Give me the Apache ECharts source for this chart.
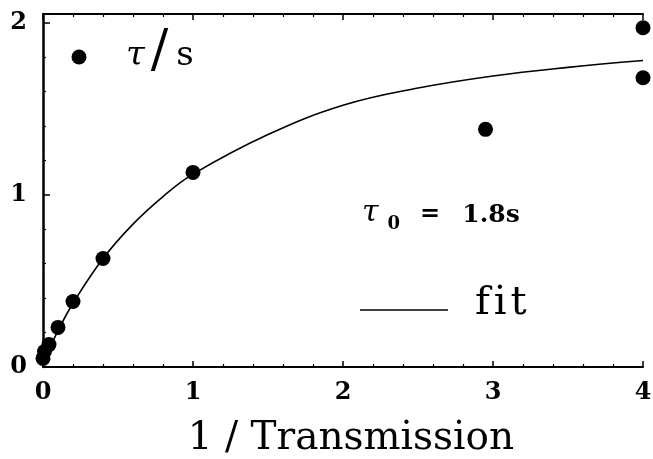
<!DOCTYPE html>
<html>
<head>
<meta charset="utf-8">
<script src="https://cdn.jsdelivr.net/npm/echarts@6/dist/echarts.min.js"></script>
<style>
  html, body { margin: 0; padding: 0; background: #fff; }
  #chart { width: 653px; height: 459px; }
</style>
</head>
<body>
<div id="chart"></div>
<script>
// Measured relaxation times τ (s) versus inverse transmission
const invTransmission = [0, 0.01, 0.04, 0.1, 0.2, 0.4, 1, 2.95, 4, 4];
const tauSeconds      = [0.05, 0.09, 0.13, 0.23, 0.38, 0.63, 1.13, 1.38, 1.97, 1.68];

// Saturating fit curve (τ0 = 1.8 s)
const fitX = [0, 0.1, 0.2, 0.4, 0.6, 0.8, 1, 1.5, 2, 2.5, 3, 3.5, 4];
const fitY = [0.03, 0.21, 0.37, 0.63, 0.83, 0.99, 1.12, 1.35, 1.52, 1.62, 1.69, 1.74, 1.78];

const xTickLabels = ['0', '1', '2', '3', '4'];
const yTickLabels = ['0', '1', '2'];

const SERIF = '"DejaVu Serif", "Liberation Serif", serif';

const chart = echarts.init(document.getElementById('chart'));

const points = invTransmission.map((x, i) => [x, tauSeconds[i]]);
const fitLine = fitX.map((x, i) => [x, fitY[i]]);

const tickStyle = { show: true, inside: true, length: 6, lineStyle: { color: '#000', width: 1.5 } };
const minorStyle = { show: true, splitNumber: 5, length: 3, lineStyle: { color: '#000', width: 1.2 } };

chart.setOption({
  animation: false,
  backgroundColor: '#fff',
  grid: { left: 43, right: 10, top: 14, bottom: 92, containLabel: false, outerBoundsMode: 'none' },
  xAxis: [
    {
      type: 'value', min: 0, max: 4, interval: 1, position: 'bottom',
      name: '1 / Transmission', nameLocation: 'middle', nameGap: 52,
      nameTextStyle: { fontFamily: SERIF, fontSize: 39, color: '#000', padding: [0, 0, 0, 16] },
      axisLine: { show: true, lineStyle: { color: '#000', width: 2 } },
      axisTick: tickStyle,
      minorTick: minorStyle,
      splitLine: { show: false },
      axisLabel: {
        margin: 14, fontFamily: SERIF, fontSize: 24, fontWeight: 'bold', color: '#000',
        formatter: v => (Number.isInteger(v) ? xTickLabels[v] : '')
      }
    },
    {
      type: 'value', min: 0, max: 4, interval: 1, position: 'top',
      axisLine: { show: true, lineStyle: { color: '#000', width: 2 } },
      axisTick: tickStyle,
      minorTick: minorStyle,
      splitLine: { show: false },
      axisLabel: { show: false }
    }
  ],
  yAxis: {
    type: 'value', min: 0, max: 2.05, interval: 1,
    axisLine: { show: true, lineStyle: { color: '#000', width: 2.5 } },
    axisTick: { show: true, inside: true, length: 7, lineStyle: { color: '#000', width: 1.5 } },
    minorTick: minorStyle,
    splitLine: { show: false },
    axisLabel: {
      margin: 16, fontFamily: SERIF, fontSize: 24, fontWeight: 'bold', color: '#000',
      formatter: v => (Number.isInteger(v) ? yTickLabels[v] : '')
    }
  },
  series: [
    {
      name: 'fit', type: 'line', data: fitLine, smooth: 0.4,
      showSymbol: false, symbol: 'none',
      lineStyle: { color: '#000', width: 1.6 }, z: 2
    },
    {
      name: 'τ/s', type: 'scatter', data: points,
      symbol: 'circle', symbolSize: 15,
      itemStyle: { color: '#000', opacity: 1 }, z: 3
    }
  ],
  graphic: [
    { type: 'circle', shape: { cx: 79, cy: 57, r: 7.5 }, style: { fill: '#000' } },
    {
      type: 'text', left: 126, top: 26,
      style: {
        text: '{t|τ}{sl|/}{s|s}',
        rich: {
          t: { fontFamily: SERIF, fontSize: 34, fontStyle: 'italic', fill: '#000', padding: [8, 0, 0, 0] },
          sl: { fontFamily: SERIF, fontSize: 52, fill: '#000', padding: [0, 8, 0, 6] },
          s: { fontFamily: SERIF, fontSize: 34, fill: '#000', padding: [8, 0, 0, 0] }
        }
      }
    },
    {
      type: 'text', left: 362, top: 198,
      style: {
        text: '{t|τ}{s|0}{e|=}{n|1.8s}',
        rich: {
          t: { fontFamily: SERIF, fontSize: 30, fontStyle: 'italic', fill: '#000' },
          s: { fontFamily: SERIF, fontSize: 18, fontWeight: 'bold', fill: '#000', padding: [22, 0, 0, 9] },
          e: { fontFamily: SERIF, fontSize: 24, fontWeight: 'bold', fill: '#000', padding: [4, 0, 0, 20] },
          n: { fontFamily: SERIF, fontSize: 25, fontWeight: 'bold', fill: '#000', padding: [4, 0, 0, 22] }
        }
      }
    },
    { type: 'line', shape: { x1: 360, y1: 310, x2: 448, y2: 310 }, style: { stroke: '#000', lineWidth: 1.6 } },
    {
      type: 'text', left: 475, top: 284,
      style: {
        text: '{a|f}{b|i}{c|t}',
        rich: {
          a: { fontFamily: SERIF, fontSize: 40, fill: '#000' },
          b: { fontFamily: SERIF, fontSize: 40, fill: '#000', padding: [0, 0, 0, 4] },
          c: { fontFamily: SERIF, fontSize: 40, fill: '#000', padding: [0, 0, 0, 4] }
        }
      }
    }
  ]
});
</script>
</body>
</html>
